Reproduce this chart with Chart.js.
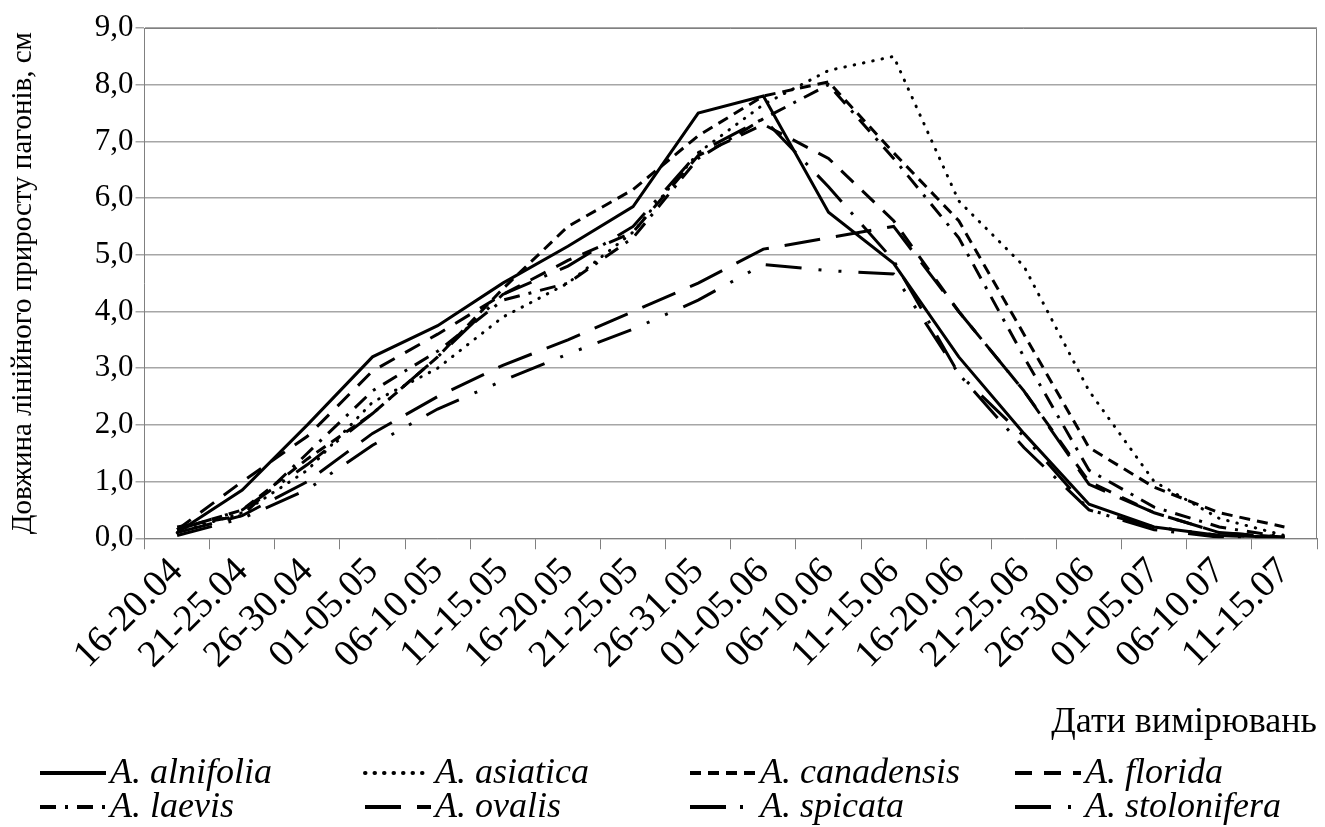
<!DOCTYPE html>
<html>
<head>
<meta charset="utf-8">
<script src="https://cdn.jsdelivr.net/npm/chart.js@4.4.1/dist/chart.umd.min.js"></script>
<style>
  html, body { margin: 0; padding: 0; background: #fff; }
  #wrap { width: 1325px; height: 827px; }
</style>
</head>
<body>
<div id="wrap"><canvas id="growthChart"></canvas></div>
<script>
const dates = ['16-20.04', '21-25.04', '26-30.04', '01-05.05', '06-10.05', '11-15.05',
    '16-20.05', '21-25.05', '26-31.05', '01-05.06', '06-10.06', '11-15.06',
    '16-20.06', '21-25.06', '26-30.06', '01-05.07', '06-10.07', '11-15.07'];

const alnifolia   = [0.1, 0.85, 2.0, 3.2, 3.75, 4.5, 5.15, 5.85, 7.5, 7.8, 5.75, 4.85, 3.2, 1.85, 0.6, 0.2, 0.05, 0.02];
const asiatica    = [0.1, 0.45, 1.2, 2.4, 3.0, 3.9, 4.5, 5.4, 6.8, 7.65, 8.25, 8.5, 5.95, 4.8, 2.6, 1.0, 0.35, 0.05];
const canadensis  = [0.15, 0.5, 1.4, 2.2, 3.2, 4.4, 5.5, 6.15, 7.1, 7.8, 8.05, 6.8, 5.6, 3.6, 1.6, 0.9, 0.45, 0.2];
const florida     = [0.15, 1.0, 1.8, 2.95, 3.6, 4.3, 4.9, 5.4, 6.75, 7.3, 6.7, 5.6, 4.0, 2.6, 1.0, 0.45, 0.1, 0.02];
const laevis      = [0.2, 0.4, 1.5, 2.6, 3.3, 4.2, 4.5, 5.3, 6.7, 7.4, 8.0, 6.7, 5.3, 3.2, 1.2, 0.55, 0.2, 0.02];
const ovalis      = [0.1, 0.4, 1.0, 1.85, 2.5, 3.05, 3.5, 4.0, 4.5, 5.1, 5.3, 5.5, 4.0, 2.6, 0.95, 0.45, 0.1, 0.02];
const spicata     = [0.15, 0.5, 1.3, 2.2, 3.2, 4.3, 4.8, 5.5, 6.8, 7.4, 6.2, 4.9, 2.9, 1.6, 0.5, 0.15, 0.02, 0.02];
const stolonifera = [0.05, 0.35, 0.86, 1.64, 2.28, 2.78, 3.25, 3.69, 4.2, 4.83, 4.72, 4.66, 2.9, 1.8, 0.5, 0.2, 0.05, 0.02];

const yTicks = [0, 1, 2, 3, 4, 5, 6, 7, 8, 9];

const serif = "'Liberation Serif', 'Times New Roman', serif";

function series(label, data, dash, cap) {
    return {
        label: label,
        data: data,
        borderColor: '#000',
        backgroundColor: '#000',
        borderWidth: 3,
        borderDash: dash,
        borderCapStyle: cap || 'butt',
        pointRadius: 0,
        tension: 0,
        fill: false
    };
}

// legend drawn as a 4 x 2 grid like the original
const gridLegend = {
    id: 'gridLegend',
    afterDraw(chart) {
        const ctx = chart.ctx;
        const cols = [40, 365, 690, 1015];
        const rows = [773, 807];
        ctx.save();
        ctx.font = "italic 36px " + serif;
        ctx.textBaseline = 'middle';
        ctx.fillStyle = '#000';
        chart.data.datasets.forEach((ds, i) => {
            const x = cols[i % 4];
            const y = rows[Math.floor(i / 4)];
            ctx.beginPath();
            ctx.lineWidth = 4;
            ctx.strokeStyle = '#000';
            ctx.lineCap = ds.borderCapStyle;
            ctx.setLineDash(ds.borderDash);
            ctx.moveTo(x, y);
            ctx.lineTo(x + 66, y);
            ctx.stroke();
            ctx.setLineDash([]);
            ctx.fillText(ds.label, x + 70, y + 1);
        });
        // frame on top and right of the plot
        const a = chart.chartArea;
        ctx.strokeStyle = '#808080';
        ctx.lineWidth = 1;
        ctx.beginPath();
        ctx.moveTo(a.left, a.top + 0.5);
        ctx.lineTo(a.right - 0.5, a.top + 0.5);
        ctx.lineTo(a.right - 0.5, a.bottom);
        ctx.stroke();
        ctx.restore();
    }
};

new Chart(document.getElementById('growthChart').getContext('2d'), {
    type: 'line',
    data: {
        labels: dates,
        datasets: [
            series('A. alnifolia', alnifolia, []),
            series('A. asiatica', asiatica, [0.5, 9], 'round'),
            series('A. canadensis', canadensis, [11, 7]),
            series('A. florida', florida, [17, 12]),
            series('A. laevis', laevis, [16, 9, 3, 9]),
            series('A. ovalis', ovalis, [36, 16]),
            series('A. spicata', spicata, [36, 14, 3, 14]),
            series('A. stolonifera', stolonifera, [36, 17, 3, 17, 3, 17])
        ]
    },
    options: {
        responsive: true,
        maintainAspectRatio: false,
        animation: false,
        layout: {padding: {left: 6, right: 8, top: 28, bottom: 83}},
        plugins: {
            legend: {display: false},
            tooltip: {enabled: false}
        },
        scales: {
            x: {
                offset: true,
                grid: {
                    offset: true,
                    drawOnChartArea: false,
                    drawTicks: true,
                    tickLength: 11,
                    color: '#808080'
                },
                border: {display: true, color: '#808080'},
                ticks: {
                    maxRotation: 45,
                    minRotation: 45,
                    autoSkip: false,
                    color: '#000',
                    font: {family: serif, size: 38},
                    padding: 0
                },
                title: {
                    display: true,
                    text: 'Дати вимірювань',
                    align: 'end',
                    color: '#000',
                    font: {family: serif, size: 36},
                    padding: {top: 23, bottom: 0}
                }
            },
            y: {
                min: 0,
                max: 9,
                afterBuildTicks(scale) {
                    scale.ticks = yTicks.map(v => ({value: v}));
                },
                grid: {
                    color: '#a6a6a6',
                    lineWidth: 1.5,
                    tickLength: 9
                },
                border: {display: true, color: '#808080'},
                ticks: {
                    color: '#000',
                    font: {family: serif, size: 31},
                    padding: 2,
                    callback: v => v.toFixed(1).replace('.', ',')
                },
                title: {
                    display: true,
                    text: 'Довжина лінійного приросту пагонів, см',
                    color: '#000',
                    font: {family: serif, size: 29},
                    padding: {top: 0, bottom: 52}
                }
            }
        }
    },
    plugins: [gridLegend]
});
</script>
</body>
</html>
